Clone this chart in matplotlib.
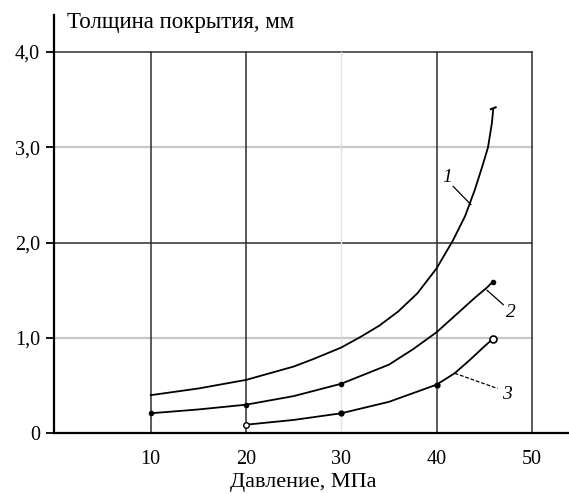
import numpy as np
from matplotlib import pyplot as plt

plt.rcParams['font.family'] = ['Liberation Serif', 'DejaVu Serif']

# curve 1
x1 = [10, 15, 20, 25, 27.1, 30, 32, 34, 36, 38, 40, 41.7, 43, 44, 44.8, 45.4, 45.8, 45.95]
y1 = [0.40, 0.47, 0.56, 0.70, 0.78, 0.90, 1.01, 1.13, 1.28, 1.47, 1.73, 2.02, 2.28, 2.55, 2.80, 3.00, 3.25, 3.40]
# curve 2
x2 = [10, 15, 20, 25, 30, 35, 37.5, 40, 42, 44, 45.3, 45.9]
y2 = [0.21, 0.25, 0.30, 0.39, 0.52, 0.72, 0.88, 1.06, 1.24, 1.42, 1.53, 1.59]
m2x = [10, 20, 30, 45.9]
m2y = [0.21, 0.30, 0.52, 1.59]
# curve 3
x3 = [20, 25, 30, 35, 40, 41.9, 43.5, 45, 45.9]
y3 = [0.09, 0.14, 0.21, 0.33, 0.51, 0.63, 0.77, 0.91, 0.99]
m3x = [30, 40]
m3y = [0.21, 0.51]

xticks = [10, 20, 30, 40, 50]
yticks = [0, 1, 2, 3, 4]
ylabels = ['0', '1,0', '2,0', '3,0', '4,0']

fig = plt.figure(figsize=(5.69, 4.94), dpi=100)
ax = fig.add_axes([54 / 569, 0.1229, 515 / 569, 0.847])
ax.set_xlim(-0.15, 53.9)
ax.set_ylim(0, 4.39)

dark = '#2e2e2e'
light = '#c8c8c8'
# grid
for yv in [1, 3]:
    ax.plot([-0.15, 50], [yv, yv], color=light, lw=1.6, zorder=1)
for yv in [2, 4]:
    ax.plot([-0.15, 50], [yv, yv], color=dark, lw=1.1, zorder=1)
for xv in [10, 20, 40, 50]:
    ax.plot([xv, xv], [0, 4], color=dark, lw=1.1, zorder=1)
ax.plot([30, 30], [0, 4], color='#e2e2e2', lw=1.0, zorder=1)

ax.plot(x1, y1, color='black', lw=1.3, zorder=3)
ax.plot(x2, y2, color='black', lw=1.3, zorder=3)
ax.plot(m2x, m2y, 'o', color='black', ms=3, zorder=4)
ax.plot(x3, y3, color='black', lw=1.3, zorder=3)
ax.plot(m3x, m3y, 'o', color='black', ms=3.5, zorder=4)
ax.plot([20], [0.09], 'o', mfc='white', mec='black', ms=4, mew=1.0, zorder=4)
ax.plot([45.9], [0.99], 'o', mfc='white', mec='black', ms=5, mew=1.2, zorder=4)
ax.plot([45.7, 46.2], [3.40, 3.42], color='black', lw=1.5, zorder=4)

# leaders and labels
ax.plot([41.75, 43.6], [2.59, 2.40], color='black', lw=0.9)
ax.text(41.1, 2.68, '1', fontsize=14, style='italic', ha='center', va='center')
ax.plot([45.3, 47.0], [1.50, 1.35], color='black', lw=0.9)
ax.text(47.8, 1.27, '2', fontsize=14, style='italic', ha='center', va='center')
ax.plot([41.9, 46.4], [0.63, 0.47], color='black', lw=0.9, ls=(0, (3, 1.5)))
ax.text(47.4, 0.41, '3', fontsize=14, style='italic', ha='center', va='center')

for s in ['top', 'right']:
    ax.spines[s].set_visible(False)
ax.spines['left'].set_linewidth(1.6)
ax.spines['bottom'].set_linewidth(1.6)

ax.set_xticks(xticks)
ax.set_xticklabels([str(v) for v in xticks])
ax.set_yticks(yticks)
ax.set_yticklabels(ylabels)
ax.tick_params(axis='x', length=0, pad=12, labelsize=14.5)
ax.tick_params(axis='y', length=6, width=1.3, pad=4, labelsize=14.5)
for t, c in zip(ax.yaxis.get_major_ticks(), ['black', light, 'black', light, 'black']):
    t.tick1line.set_color(c)

fig.text(67 / 569, 0.955, 'Толщина покрытия, мм', fontsize=16.5, ha='left', va='center')
fig.text(0.533, 0.004, 'Давление, МПа', fontsize=16, ha='center', va='bottom')

fig.savefig('out.png', dpi=100)
